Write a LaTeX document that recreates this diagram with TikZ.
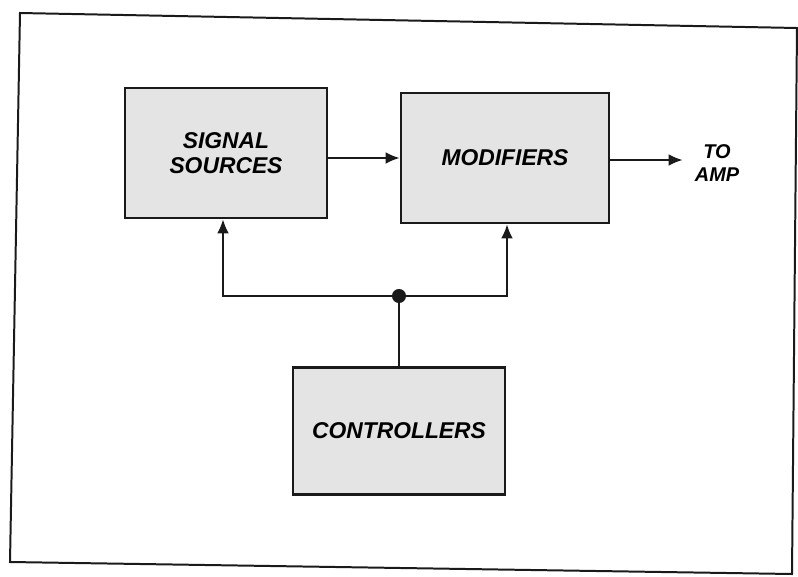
\documentclass[tikz,border=0pt]{standalone}
\usepackage{fontspec}
\setmainfont{Liberation Sans}
\usepackage{tikz}
\usetikzlibrary{positioning,arrows.meta,calc}
\definecolor{scanGrey}{HTML}{E4E4E4}
\definecolor{inkBlack}{HTML}{1A1A1A}

\begin{document}
\begin{tikzpicture}[x=0.03cm,y=-0.03cm,
    block/.style={draw=inkBlack,line width=2.2pt,fill=scanGrey,
      minimum width=202*0.03cm,minimum height=130*0.03cm,
      font=\fontsize{19.5}{21}\selectfont\bfseries\itshape,align=center},
    wire/.style={draw=inkBlack,line width=1.6pt},
    feed/.style={wire,-{Latex[length=12pt,width=10pt]}}]
    \useasboundingbox (0,0) rectangle (798,576);
    % outer frame of the scan
    \draw[inkBlack,line width=1.7pt] (20,13) -- (797,28) -- (792,574) -- (10,562) -- cycle;
    \node[block] (sources) at (226,153) {SIGNAL\\SOURCES};
    \node[block,minimum width=208*0.03cm] (modif) at (505,158) {MODIFIERS};
    \node[block,minimum width=212*0.03cm,minimum height=127*0.03cm] (ctrl) at (399,431) {CONTROLLERS};
    \node[font=\fontsize{17}{19}\selectfont\bfseries\itshape,align=center] (amp) at (717,163) {TO\\AMP};
    \node[circle,fill=inkBlack,inner sep=0pt,minimum size=12pt] (hub) at (399,296) {};
    \draw[feed] (sources.east |- modif.west) -- (modif.west);
    \draw[feed] ($(modif.east)+(0,2)$) -- ($(modif.east -| amp.west)+(-8,2)$);
    \draw[wire] (ctrl.north) -- (hub);
    \draw[feed] (hub) -| ($(sources.south)+(-3,0)$);
    \draw[feed] (hub) -| ($(modif.south)+(2,0)$);
  \end{tikzpicture}
\end{document}
